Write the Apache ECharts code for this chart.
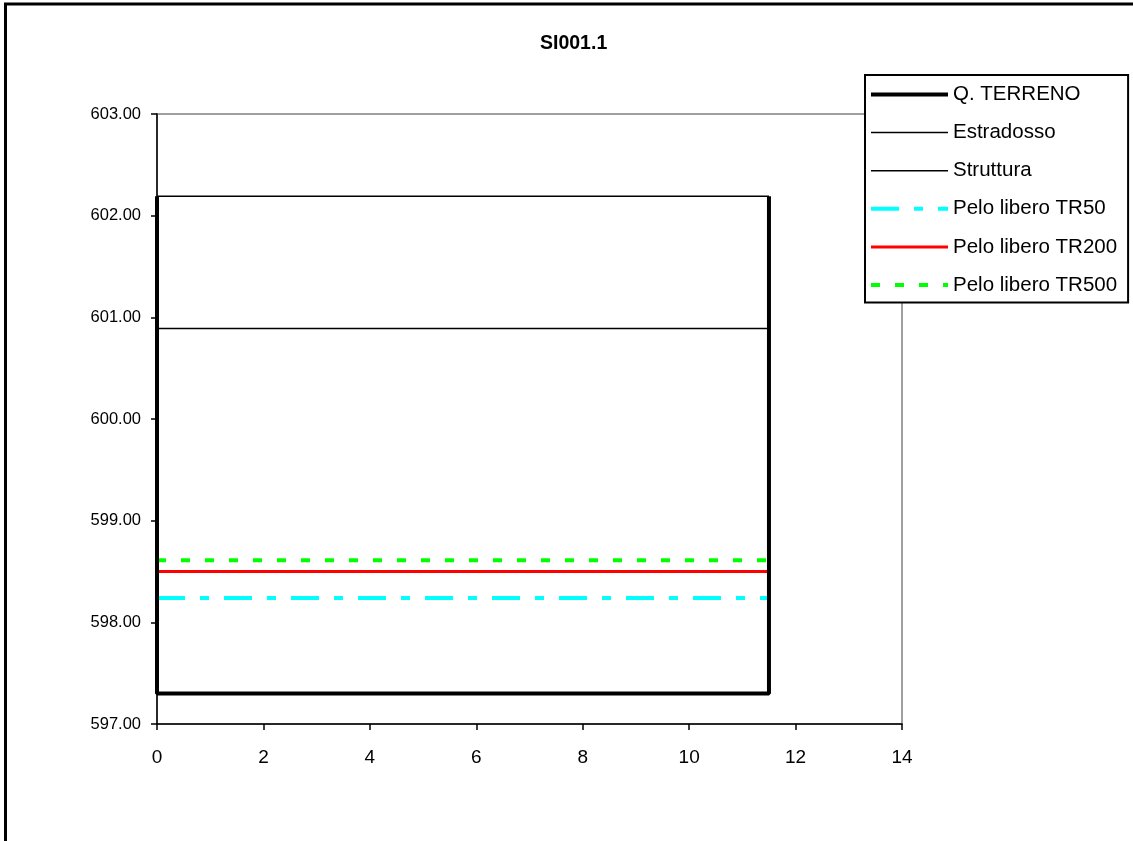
<!DOCTYPE html>
<html>
<head>
<meta charset="utf-8">
<script src="https://cdn.jsdelivr.net/npm/echarts@6/dist/echarts.min.js"></script>
<style>
html,body{margin:0;padding:0;background:#fff;}
#c{width:1133px;height:841px;}
</style>
</head>
<body>
<div id="c"></div>
<script>
// ---- data ----
var chartTitle = 'SI001.1';
var seriesNames = ['Q. TERRENO', 'Estradosso', 'Struttura', 'Pelo libero TR50', 'Pelo libero TR200', 'Pelo libero TR500'];
var terreno = [[0, 602.19], [0, 597.3], [11.5, 597.3], [11.5, 602.19]];
var estradosso = [[0, 602.19], [11.5, 602.19]];
var struttura = [[0, 600.89], [11.5, 600.89]];
var tr50 = [[0, 598.24], [11.5, 598.24]];
var tr200 = [[0, 598.5], [11.5, 598.5]];
var tr500 = [[0, 598.61], [11.5, 598.61]];
var xRange = [0, 14, 2];
var yRange = [597, 603, 1];

var chart = echarts.init(document.getElementById('c'), null, {renderer: 'canvas'});
var FONT = 'Liberation Sans, Arial, sans-serif';

var styles = [
  {color: '#000000', width: 4, type: 'solid', z: 6},
  {color: '#000000', width: 1.5, type: 'solid', z: 5},
  {color: '#000000', width: 1.5, type: 'solid', z: 5},
  {color: '#00FFFF', width: 4, type: [28, 15, 9, 15], z: 4},
  {color: '#FF0000', width: 3, type: 'solid', z: 4},
  {color: '#00FF00', width: 4, type: [9, 15], z: 4}
];
var datas = [terreno, estradosso, struttura, tr50, tr200, tr500];

var series = seriesNames.map(function (n, i) {
  var s = styles[i];
  return {
    name: n, type: 'line', data: datas[i], symbol: 'none', clip: false,
    animation: false, z: s.z,
    lineStyle: {color: s.color, width: s.width, type: s.type},
    itemStyle: {color: s.color}
  };
});
var legendData = seriesNames.map(function (n, i) {
  var s = styles[i];
  return {
    name: n,
    lineStyle: {color: s.color, width: s.width, type: s.type},
    itemStyle: {opacity: 0}
  };
});

var option = {
  animation: false,
  backgroundColor: '#fff',
  title: {
    text: chartTitle, left: 535, top: 29,
    textStyle: {fontFamily: FONT, fontSize: 19.5, fontWeight: 'bold', color: '#000'}
  },
  grid: {
    left: 157, right: 231, top: 114, bottom: 117,
    show: true, borderColor: '#808080', borderWidth: 1.5, backgroundColor: 'transparent'
  },
  legend: {
    orient: 'vertical', left: 865, top: 75,
    padding: [9, 11, 7, 4],
    itemWidth: 77, itemHeight: 14, itemGap: 17.1,
    backgroundColor: '#fff', borderColor: '#000', borderWidth: 2, borderRadius: 0,
    textStyle: {fontFamily: FONT, fontSize: 20.5, color: '#000'},
    data: legendData
  },
  xAxis: {
    type: 'value', min: xRange[0], max: xRange[1], interval: xRange[2],
    axisLine: {show: true, onZero: false, lineStyle: {color: '#000', width: 1.5}},
    axisTick: {show: true, inside: false, length: 6, lineStyle: {color: '#000', width: 1.5}},
    axisLabel: {margin: 24, fontFamily: FONT, fontSize: 19, color: '#000'},
    splitLine: {show: false}
  },
  yAxis: {
    type: 'value', min: yRange[0], max: yRange[1], interval: yRange[2],
    axisLine: {show: true, onZero: false, lineStyle: {color: '#000', width: 1.5}},
    axisTick: {show: true, inside: false, length: 6, lineStyle: {color: '#000', width: 1.5}},
    axisLabel: {margin: 16, fontFamily: FONT, fontSize: 16.5, color: '#000',
      formatter: function (v) { return v.toFixed(2); }},
    splitLine: {show: false}
  },
  graphic: [{
    type: 'rect', silent: true, z: 100,
    shape: {x: 5.5, y: 4, width: 1200, height: 900},
    style: {fill: 'none', stroke: '#000', lineWidth: 3}
  }],
  series: series
};
chart.setOption(option);
</script>
</body>
</html>
